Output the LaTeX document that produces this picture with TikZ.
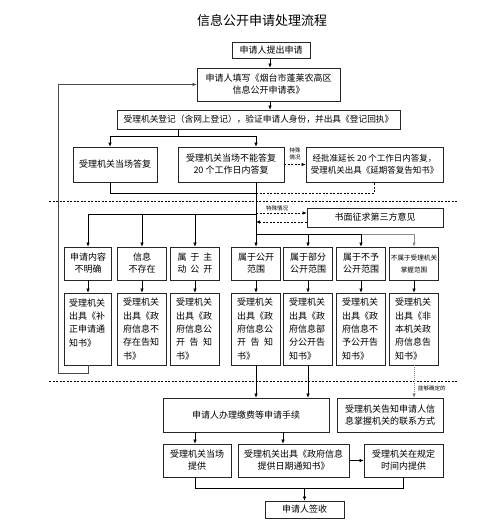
\documentclass[tikz,border=0pt]{standalone}
\usepackage{fontspec}
\setmainfont{Noto Sans CJK SC}
\usetikzlibrary{arrows.meta,calc}
\begin{document}
\begin{tikzpicture}[x=1pt,y=-1pt,
  box/.style={draw=black!85, line width=0.7pt, inner sep=1pt, align=center, font=\fontsize{9}{12}\selectfont},
  lbox/.style={draw=black!85, line width=0.7pt, inner sep=0pt, align=left, text width=38pt, minimum width=49pt, minimum height=72pt, font=\fontsize{9}{13.3}\selectfont},
  rbox/.style={box, minimum width=49pt, minimum height=33pt},
  arr/.style={-{Latex[length=4pt,width=3.5pt]}, line width=0.6pt},
  ln/.style={line width=0.6pt},
  dsh/.style={dash pattern=on 2pt off 1.5pt},
  lbl/.style={font=\fontsize{5.5}{6.5}\selectfont, inner sep=0pt, align=center}
]
\useasboundingbox (0,0) rectangle (500,532);

% column coordinates
\coordinate (k1) at (88,0);
\coordinate (k2) at (142,0);
\coordinate (k3) at (195,0);
\coordinate (k4) at (256,0);
\coordinate (k5) at (308,0);
\coordinate (k6) at (361,0);
\coordinate (k7) at (414,0);
\coordinate (kL) at (58,0);
\coordinate (kA) at (110,0);
\coordinate (kB) at (178,0);
\coordinate (kC) at (374,0);
\coordinate (kE) at (283,0);
\coordinate (kN) at (270,0);
% row coordinates
\coordinate (y1) at (0,136);
\coordinate (y2) at (0,193);
\coordinate (y3) at (0,214);
\coordinate (y4) at (0,234);
\coordinate (y5) at (0,373);
\coordinate (y6) at (0,488);

\node[font=\fontsize{13}{15}\selectfont, inner sep=0pt] (title) at (262,21) {信息公开申请处理流程};

\node[box, minimum width=78pt, minimum height=16pt] (n1) at (271,50.5) {申请人提出申请};
\node[box, minimum width=143pt, minimum height=33pt] (n2) at (268.5,84.5) {申请人填写《烟台市蓬莱农高区\\信息公开申请表》};
\node[box, minimum width=283pt, minimum height=19pt, font=\fontsize{8.7}{11}\selectfont] (n3) at (258.5,119.5) {受理机关登记（含网上登记），验证申请人身份，并出具《登记回执》};
\node[box, minimum width=84pt, minimum height=35pt] (n4) at (115,164.5) {受理机关当场答复};
\node[box, minimum width=106pt, minimum height=35pt] (n5) at (231,164.5) {受理机关当场不能答复\\20 个工作日内答复};
\node[box, minimum width=137pt, minimum height=35pt, font=\fontsize{8.5}{12}\selectfont] (n6) at (374.5,164.5) {经批准延长 20 个工作日内答复，\\受理机关出具《延期答复告知书》};
\node[box, minimum width=136pt, minimum height=19pt] (n7) at (375,217.5) {书面征求第三方意见};

% row 1
\node[rbox, minimum width=47pt] (a1) at (88,263.5) {申请内容\\不明确};
\node[rbox] (a2) at (142,263.5) {信息\\不存在};
\node[rbox] (a3) at (195,263.5) {属\hspace{4pt}于\hspace{4pt}主\\动\hspace{4pt}公\hspace{4pt}开};
\node[rbox] (a4) at (256,263.5) {属于公开\\范围};
\node[rbox] (a5) at (308,263.5) {属于部分\\公开范围};
\node[rbox] (a6) at (361,263.5) {属于不予\\公开范围};
\node[rbox, font=\fontsize{6.6}{12}\selectfont] (a7) at (414,263.5) {不属于受理机关\\掌握范围};

% row 2
\node[lbox, minimum width=47pt] (b1) at (88,329) {受理机关\\出具《补\\正申请通\\知书》\\\mbox{}};
\node[lbox] (b2) at (142,329) {受理机关\\出具《政\\府信息不\\存在告知\\书》};
\node[lbox] (b3) at (195,329) {受理机关\\出具《政\\府信息公\\开\hspace{4.5pt}告\hspace{4.5pt}知\\书》};
\node[lbox] (b4) at (256,329) {受理机关\\出具《政\\府信息公\\开\hspace{4.5pt}告\hspace{4.5pt}知\\书》};
\node[lbox] (b5) at (308,329) {受理机关\\出具《政\\府信息部\\分公开告\\知书》};
\node[lbox] (b6) at (361,329) {受理机关\\出具《政\\府信息不\\予公开告\\知书》};
\node[lbox] (b7) at (414,329) {受理机关\\出具《非\\本机关政\\府信息告\\知书》};

% lower part
\node[box, minimum width=166pt, minimum height=34pt] (m1) at (246,415) {申请人办理缴费等申请手续};
\node[box, minimum width=106pt, minimum height=34pt] (m2) at (390,415) {受理机关告知申请人信\\息掌握机关的联系方式};
\node[box, minimum width=68pt, minimum height=33pt] (p1) at (197,460.5) {受理机关当场\\提供};
\node[box, minimum width=111pt, minimum height=33pt] (p2) at (293.5,460.5) {受理机关出具《政府信息\\提供日期通知书》};
\node[box, minimum width=79pt, minimum height=33pt] (p3) at (403.5,460.5) {受理机关在规定\\时间内提供};
\node[box, minimum width=79pt, minimum height=17pt] (s1) at (304.5,509.5) {申请人签收};

% separators
\draw[dsh, line width=0.5pt] (49,201) -- (457,201);
\draw[dsh, line width=0.5pt] (49,381) -- (457,381);

% top connectors
\draw[arr] (kN |- n1.south) -- (kN |- n2.north);
\draw[arr] (kN |- n2.south) -- (kN |- n3.north);
\draw[ln] (kB |- n3.south) -- (kB |- y1);
\draw[ln] (kA |- y1) -- (k4 |- y1);
\draw[arr] (kA |- y1) -- (kA |- n4.north);
\draw[arr] (k4 |- y1) -- (k4 |- n5.north);
\draw[arr, dsh] (n5.east) -- (n6.west);
\node[lbl] (l1) at (295,154) {特殊\\情况};

% merge under first row
\draw[ln] (kA |- n4.south) -- (kA |- y2) -- (k4 |- y2);
\draw[ln, dsh] (k4 |- y2) -- (kC |- y2) -- (kC |- n6.south);
\draw[arr] (k4 |- n5.south) -- (k4 |- a4.north);

% third party
\draw[arr, dsh] ([yshift=4.5pt]n7.west -| k4) -- ([yshift=4.5pt]n7.west);
\draw[arr, dsh] ([yshift=-4.5pt]n7.west) -- ([yshift=-4.5pt]n7.west -| k4);
\node[lbl] (l2) at (277,208) {特殊情况};

% buses
\draw[ln] (k1 |- y3) -- (k4 |- y3);
\draw[arr] (k1 |- y3) -- (a1.north);
\draw[arr] (k2 |- y3) -- (a2.north);
\draw[arr] (k3 |- y3) -- (a3.north);
\draw[ln] (k4 |- y4) -- (k6 |- y4);
\draw[ln, black!45] (k6 |- y4) -- (k7 |- y4);
\draw[arr] (k5 |- y4) -- (a5.north);
\draw[arr] (k6 |- y4) -- (a6.north);
\draw[arr, black!45] (k7 |- y4) -- (a7.north);

% row1 -> row2
\draw[arr] (a1.south) -- (b1.north);
\draw[arr] (a2.south) -- (b2.north);
\draw[arr] (a3.south) -- (b3.north);
\draw[arr] (a4.south) -- (b4.north);
\draw[arr] (a5.south) -- (b5.north);
\draw[arr] (a6.south) -- (b6.north);
\draw[arr] (a7.south) -- (b7.north);

% loop back
\draw[arr, black!70] (b1.south) -- (k1 |- y5) -- (kL |- y5) -- (kL |- n2.west) -- (n2.west);

% row2 -> lower
\draw[arr] (b4.south) -- (k4 |- m1.north);
\draw[arr] (b5.south) -- (k5 |- m1.north);
\draw[arr, black!50, dash pattern=on 1pt off 1pt] (b7.south) -- (k7 |- m2.north);
\node[lbl, anchor=west] (l3) at (418,388) {能够确定的};

\draw[arr] (k3 |- m1.south) -- (k3 |- p1.north);
\draw[arr] (kE |- m1.south) -- (kE |- p2.north);
\draw[arr] (p2.east) -- (p3.west);

\draw[ln] (k3 |- p1.south) -- (k3 |- y6) -- (p3.south |- y6) -- (p3.south);
\draw[arr] (s1.north |- y6) -- (s1.north);
\end{tikzpicture}
\end{document}
